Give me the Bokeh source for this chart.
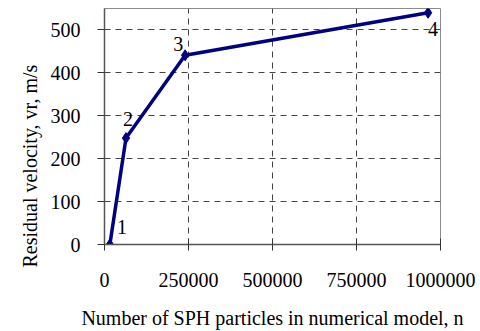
from bokeh.plotting import figure
from bokeh.models import Range1d, FixedTicker, BasicTickFormatter, Title, ColumnDataSource
from bokeh.core.properties import value
from bokeh.embed import file_html
from bokeh.resources import INLINE

# ---- data ----
n_particles = [16000, 64000, 240000, 963000]
velocity = [0, 248, 441, 540]
point_labels = ["1", "2", "3", "4"]
x_ticks = [0, 250000, 500000, 750000, 1000000]
y_ticks = [0, 100, 200, 300, 400, 500]
x_title = "Number of SPH particles in numerical model, n"
y_title = "Residual velocity, vr, m/s"

# ---- style / layout ----
FONT = "Liberation Serif"
LINE_COLOR = "#000080"
W, H = 480, 331
BL, BR, BT, BB = 104, 40, 8, 86
XMAX, YMAX = 1000000, 550

p = figure(width=W, height=H, output_backend="svg", toolbar_location=None,
           x_range=Range1d(0, XMAX), y_range=Range1d(0, YMAX),
           min_border_left=BL, min_border_right=BR, min_border_top=BT, min_border_bottom=BB)
p.background_fill_color = "white"
p.border_fill_color = "white"
p.outline_line_color = "#8c8c8c"
p.outline_line_width = 1

for ax in (p.xaxis[0], p.yaxis[0]):
    ax.axis_line_color = "#555555"
    ax.axis_line_width = 1.5
    ax.major_tick_line_color = "#333333"
    ax.major_tick_line_width = 1
    ax.minor_tick_line_color = None
    ax.major_label_text_font = FONT
    ax.major_label_text_font_size = "20px"
    ax.major_label_text_color = "black"
    ax.formatter = BasicTickFormatter(use_scientific=False)
    ax.axis_label_text_font = FONT
    ax.axis_label_text_font_size = "20px"
    ax.axis_label_text_font_style = "normal"
    ax.axis_label_text_color = "black"

p.xaxis[0].ticker = FixedTicker(ticks=x_ticks)
p.yaxis[0].ticker = FixedTicker(ticks=y_ticks)
p.xaxis[0].major_tick_in = 6
p.xaxis[0].major_tick_out = 6
p.xaxis[0].major_label_standoff = 22
p.xaxis[0].axis_label = x_title
p.xaxis[0].axis_label_standoff = 17
p.yaxis[0].major_tick_in = 0
p.yaxis[0].major_tick_out = 7
p.yaxis[0].major_label_standoff = 17

ytitle = Title(text=y_title, align="left", offset=-23, standoff=14,
               text_font=FONT, text_font_size="20px", text_font_style="normal",
               text_color="black")
p.add_layout(ytitle, "left")

for g in (p.xgrid[0], p.ygrid[0]):
    g.grid_line_color = "#444444"
    g.grid_line_dash = "6 5"
    g.grid_line_width = 1

src = ColumnDataSource(dict(x=n_particles, y=velocity, t=point_labels,
                            dx=[7, -3, -12, 0], dy=[-18, -19, -11, 16]))
p.line("x", "y", source=src, line_color=LINE_COLOR, line_width=3.5)
p.scatter("x", "y", source=src, marker="diamond", size=11, fill_color=LINE_COLOR,
          line_color=LINE_COLOR)
p.text("x", "y", text="t", source=src, x_offset="dx", y_offset="dy",
       text_font=value(FONT), text_font_size="20px", text_color="black",
       text_baseline="alphabetic", text_align="left")

open("out.html", "w").write(file_html(p, INLINE))
